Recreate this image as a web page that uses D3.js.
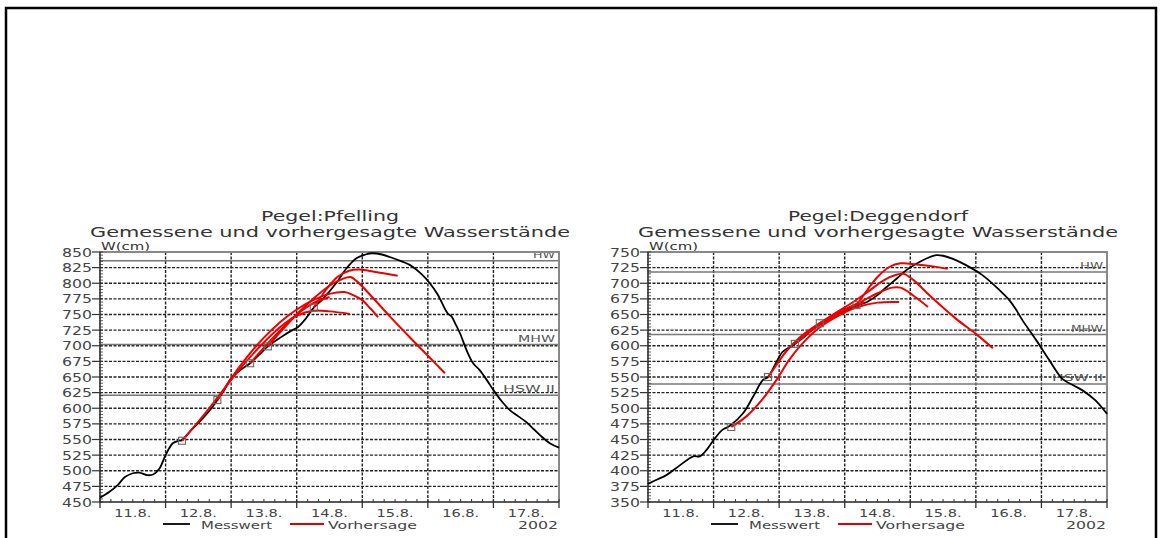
<!DOCTYPE html>
<html><head><meta charset="utf-8">
<script src="https://cdn.jsdelivr.net/npm/d3@7"></script>
<style>body{margin:0;background:#fff}svg{display:block}text{font-family:"DejaVu Sans",sans-serif}</style>
</head><body>
<script>
// ---------- DATA ----------
const dayLabels = ["11.8.","12.8.","13.8.","14.8.","15.8.","16.8.","17.8."];
const yearLabel = "2002";
const legendLabels = ["Messwert","Vorhersage"];
const refNames = ["HW","MHW","HSW II"];

// Pfelling
const pfellingTitle = "Pegel:Pfelling";
const subTitle = "Gemessene und vorhergesagte Wasserstände";
const pfellingYTicks = [450,475,500,525,550,575,600,625,650,675,700,725,750,775,800,825,850];
const pfellingRefValues = [836,702,621];
// measured: day offset since 11.8. 00:00, water level (cm)
const pfellingT = [0,0.14,0.27,0.38,0.5,0.6,0.72,0.81,0.91,1.0,1.11,1.2,1.25,1.4,1.57,1.7,1.79,1.9,2.0,2.15,2.29,2.45,2.56,2.75,2.9,3.02,3.12,3.26,3.4,3.6,3.76,3.91,4.05,4.15,4.3,4.42,4.6,4.73,4.9,5.03,5.15,5.3,5.36,5.42,5.49,5.59,5.69,5.79,5.9,6.0,6.12,6.25,6.38,6.5,6.62,6.71,6.86,7.0];
const pfellingW = [457,466,477,490,496,497,493,494,504,525,544,548,549,566,584,600,613,630,648,662,672,688,699,713,723,730,741,761,775,800,824,840,846,848,846,842,835,829,815,800,782,752,747,735,720,693,672,661,645,629,612,597,587,578,566,557,544,537];
const pfellingForecasts = [
  [[1.25,548],[1.55,585],[1.85,625],[2.15,665],[2.45,700],[2.75,730],[3.0,748],[3.25,756],[3.5,755],[3.81,751]],
  [[1.79,613],[2.0,648],[2.25,683],[2.5,713],[2.75,738],[3.0,758],[3.25,773],[3.5,783],[3.73,786],[3.88,780],[4.0,773],[4.12,760],[4.24,746]],
  [[2.29,672],[2.5,697],[2.75,725],[3.0,750],[3.25,768],[3.5,778]],
  [[2.56,699],[2.75,722],[3.0,750],[3.25,775],[3.5,796],[3.7,807],[3.82,810],[3.92,803],[4.15,778],[4.42,747],[4.72,714],[5.02,682],[5.26,656]],
  [[3.26,761],[3.45,790],[3.62,810],[3.8,820],[3.95,822],[4.2,818],[4.54,812]]
];

// Deggendorf
const deggendorfTitle = "Pegel:Deggendorf";
const deggendorfYTicks = [350,375,400,425,450,475,500,525,550,575,600,625,650,675,700,725,750];
const deggendorfRefValues = [718,618,539];
const deggendorfT = [0,0.14,0.28,0.49,0.69,0.79,0.89,1.0,1.13,1.25,1.45,1.6,1.75,1.83,1.95,2.05,2.2,2.32,2.5,2.67,2.82,2.98,3.18,3.34,3.5,3.64,3.8,3.94,4.14,4.3,4.4,4.5,4.65,4.85,5.1,5.36,5.51,5.6,5.71,5.92,6.12,6.32,6.5,6.62,6.82,7.0];
const deggendorfW = [379,386,393,409,423,423,433,449,465,472,492,518,545,550,572,590,600,609,625,638,647,654,664,670,681,694,708,721,734,742,745,744,739,729,713,689,673,660,641,609,577,547,536,529,513,491];
const deggendorfForecasts = [
  [[1.27,470],[1.5,487],[1.75,515],[1.97,547],[2.15,577],[2.35,603],[2.6,628],[2.9,648],[3.2,662],[3.5,669],[3.83,670]],
  [[1.83,550],[1.95,568],[2.1,590],[2.3,612],[2.6,635],[2.9,653],[3.2,668],[3.5,684],[3.72,693],[3.85,693],[4.05,680],[4.27,662]],
  [[2.24,603],[2.5,625],[2.8,645],[3.05,660],[3.3,670]],
  [[2.62,636],[2.9,655],[3.1,668],[3.35,686],[3.6,705],[3.8,714],[3.9,715],[4.05,705],[4.3,680],[4.7,643],[5.0,619],[5.26,596]],
  [[3.18,665],[3.35,690],[3.5,710],[3.68,726],[3.85,732],[4.1,730],[4.35,727],[4.57,723]]
];

// ---------- DRAW ----------
const svg = d3.select("body").append("svg").attr("width",1160).attr("height",538);
svg.append("path").attr("d","M6,538V8H1156V538").attr("fill","none").attr("stroke","#000").attr("stroke-width",2.5);

function drawChart(cfg){
  const x0 = cfg.left, x1 = cfg.left + 459, yTop = 252, yBot = 502;
  const yTicks = cfg.yTicks;
  const x = d3.scaleLinear().domain([0,7]).range([x0,x1]);
  const y = d3.scaleLinear().domain([yTicks[0], yTicks[yTicks.length-1]]).range([yBot,yTop]);
  const g = svg.append("g");
  const cx = (x0+x1)/2 + 0.5;

  // titles
  g.append("text").attr("x",cx).attr("y",221).attr("text-anchor","middle").attr("font-size",14).attr("fill","#333")
    .attr("textLength",cfg.titleLen).attr("lengthAdjust","spacingAndGlyphs").text(cfg.title);
  g.append("text").attr("x",cx).attr("y",237).attr("text-anchor","middle").attr("font-size",14).attr("fill","#333")
    .attr("textLength",480).attr("lengthAdjust","spacingAndGlyphs").text(subTitle);
  g.append("text").attr("x",x0+1).attr("y",250).attr("font-size",10.5).attr("fill","#333")
    .attr("textLength",49).attr("lengthAdjust","spacingAndGlyphs").text("W(cm)");

  // horizontal grid
  g.selectAll(".hg").data(yTicks.slice(1,-1)).join("line")
    .attr("x1",x0).attr("x2",x1).attr("y1",d=>y(d)).attr("y2",d=>y(d))
    .attr("stroke","#222").attr("stroke-width",1.3).attr("stroke-dasharray","3,1.5");
  // vertical grid
  g.selectAll(".vg").data(d3.range(1,7)).join("line")
    .attr("x1",d=>x(d)).attr("x2",d=>x(d)).attr("y1",yTop).attr("y2",yBot)
    .attr("stroke","#222").attr("stroke-width",1.4).attr("stroke-dasharray","3,1.5");

  // reference lines
  cfg.refs.forEach((v,i)=>{
    g.append("line").attr("x1",x0).attr("x2",x1).attr("y1",y(v)).attr("y2",y(v))
      .attr("stroke","#777").attr("stroke-width",1.5);
    g.append("text").attr("x",x1-4).attr("y",y(v)-3).attr("text-anchor","end").attr("font-size",9).attr("fill","#555")
      .attr("textLength",cfg.refLens[i]).attr("lengthAdjust","spacingAndGlyphs").text(refNames[i]);
  });

  // frame top/right
  g.append("path").attr("d",`M${x0},${yTop}H${x1}V${yBot}`).attr("fill","none").attr("stroke","#888").attr("stroke-width",2);

  // y axis
  g.append("line").attr("x1",x0).attr("x2",x0).attr("y1",yTop).attr("y2",yBot).attr("stroke","#222").attr("stroke-width",1.5);
  const yMinor = d3.range(yTicks[0], yTicks[yTicks.length-1]+0.1, 5);
  g.selectAll(".ym").data(yMinor).join("line")
    .attr("x1",x0-1).attr("x2",x0+3).attr("y1",d=>y(d)).attr("y2",d=>y(d)).attr("stroke","#333").attr("stroke-width",0.8);
  g.selectAll(".yt").data(yTicks).join("line")
    .attr("x1",x0-8).attr("x2",x0).attr("y1",d=>y(d)).attr("y2",d=>y(d)).attr("stroke","#333").attr("stroke-width",1.2);
  g.selectAll(".yl").data(yTicks).join("text")
    .attr("x",x0-8).attr("y",d=>y(d)+4.5).attr("text-anchor","end").attr("font-size",12).attr("fill","#444")
    .attr("textLength",30).attr("lengthAdjust","spacingAndGlyphs").text(d=>d);

  // x axis
  g.append("line").attr("x1",x0).attr("x2",x1).attr("y1",yBot).attr("y2",yBot).attr("stroke","#222").attr("stroke-width",1.5);
  g.selectAll(".xm").data(d3.range(0,7.001,1/6)).join("line")
    .attr("x1",d=>x(d)).attr("x2",d=>x(d)).attr("y1",yBot-3).attr("y2",yBot).attr("stroke","#333").attr("stroke-width",1);
  g.selectAll(".xt").data(d3.range(0,8)).join("line")
    .attr("x1",d=>x(d)).attr("x2",d=>x(d)).attr("y1",yBot).attr("y2",yBot+6).attr("stroke","#333").attr("stroke-width",1.3);
  g.selectAll(".xl").data(dayLabels).join("text")
    .attr("x",(d,i)=>x(i+0.5)).attr("y",516.5).attr("text-anchor","middle").attr("font-size",11).attr("fill","#444")
    .attr("textLength",37).attr("lengthAdjust","spacingAndGlyphs").text(d=>d);

  // legend
  g.append("line").attr("x1",x0+63).attr("x2",x0+90).attr("y1",524).attr("y2",524).attr("stroke","#000").attr("stroke-width",1.8);
  g.append("text").attr("x",x0+101).attr("y",528.5).attr("font-size",10.5).attr("fill","#444")
    .attr("textLength",71).attr("lengthAdjust","spacingAndGlyphs").text(legendLabels[0]);
  g.append("line").attr("x1",x0+190).attr("x2",x0+224).attr("y1",524).attr("y2",524).attr("stroke","#e00000").attr("stroke-width",1.8);
  g.append("text").attr("x",x0+228).attr("y",528.5).attr("font-size",10.5).attr("fill","#444")
    .attr("textLength",89).attr("lengthAdjust","spacingAndGlyphs").text(legendLabels[1]);
  g.append("text").attr("x",x1-1).attr("y",529).attr("text-anchor","end").attr("font-size",10).attr("fill","#444")
    .attr("textLength",40).attr("lengthAdjust","spacingAndGlyphs").text(yearLabel);

  const line = d3.line().x(d=>x(d[0])).y(d=>y(d[1])).curve(d3.curveCatmullRom.alpha(0.5));
  const measured = cfg.t.map((t,i)=>[t,cfg.w[i]]);

  g.append("path").datum(measured).attr("d",line).attr("fill","none").attr("stroke","#000").attr("stroke-width",1.8);
  g.selectAll(".fc").data(cfg.fc).join("path").attr("d",line)
    .attr("fill","none").attr("stroke","#ee0000").attr("stroke-width",2);

  // forecast start markers
  g.selectAll(".mk").data(cfg.fc).join("rect")
    .attr("x",d=>x(d[0][0])-3.5).attr("y",d=>y(d[0][1])-3.5).attr("width",7).attr("height",7)
    .attr("fill","none").attr("stroke","#666").attr("stroke-width",1.1);
}

drawChart({left:100, yTicks:pfellingYTicks, refs:pfellingRefValues, refLens:[22,37,52], title:pfellingTitle, titleLen:138,
  t:pfellingT, w:pfellingW, fc:pfellingForecasts});
drawChart({left:648, yTicks:deggendorfYTicks, refs:deggendorfRefValues, refLens:[23,32,51], title:deggendorfTitle, titleLen:180,
  t:deggendorfT, w:deggendorfW, fc:deggendorfForecasts});
</script>
</body></html>
